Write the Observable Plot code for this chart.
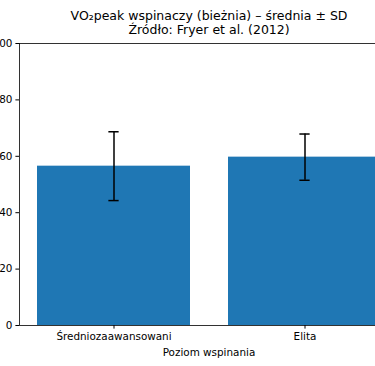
<!DOCTYPE html>
<html>
<head>
<meta charset="utf-8">
<script src="https://cdn.jsdelivr.net/npm/d3@7"></script>
<script src="https://cdn.jsdelivr.net/npm/@observablehq/plot@0.6"></script>
<style>
html, body { margin: 0; padding: 0; overflow: hidden; background: white; }
</style>
</head>
<body>
<div id="chart"></div>
<script>
const categories = ["Średniozaawansowani", "Elita"];
const means = [56.5, 59.7];
const sds = [12.2, 8.2];
const yTicks = [0, 20, 40, 60, 80, 100];
const titleLines = ["VO₂peak wspinaczy (bieżnia) – średnia ± SD", "Źródło: Fryer et al. (2012)"];
const xLabel = "Poziom wspinania";

const data = categories.map((c, i) => ({cat: c, mean: means[i], lo: means[i] - sds[i], hi: means[i] + sds[i]}));

const W = 420, ML = 19, MR = 22, MT = 43, MB = 41, H = 366;
const bw = d3.scaleBand().domain(categories).range([ML, W - MR]).paddingInner(0.2).paddingOuter(0.09).bandwidth();
const capHalf = 5.2;
const inset = bw / 2 - capHalf;

const font = "DejaVu Sans, sans-serif";

const plot = Plot.plot({
  width: W, height: H,
  marginLeft: ML, marginRight: MR, marginTop: MT, marginBottom: MB,
  style: {fontFamily: font, fontSize: "10.4px", maxWidth: "none", background: "white", overflow: "visible", color: "black"},
  x: {type: "band", domain: categories, paddingInner: 0.2, paddingOuter: 0.09, label: null},
  y: {domain: [0, 100], label: null},
  marks: [
    Plot.barY(data, {x: "cat", y: "mean", fill: "#1f77b4"}),
    Plot.ruleX(data, {x: "cat", y1: "lo", y2: "hi", stroke: "black", strokeWidth: 1.5}),
    Plot.tickY(data, {x: "cat", y: "lo", stroke: "black", strokeWidth: 1.5, insetLeft: inset, insetRight: inset}),
    Plot.tickY(data, {x: "cat", y: "hi", stroke: "black", strokeWidth: 1.5, insetLeft: inset, insetRight: inset}),
    Plot.frame({stroke: "black", strokeWidth: 0.8}),
    Plot.axisY({ticks: yTicks, tickSize: 3.6, tickPadding: 3.5, label: null, fontSize: "10.4px"}),
    Plot.axisX({tickSize: 3.6, tickPadding: 4, label: null, fontSize: "10.4px"}),
    Plot.text([xLabel], {frameAnchor: "bottom", dy: 30, fontSize: "10.4px", text: d => d}),
    Plot.text([titleLines[0]], {frameAnchor: "top", dy: -32.5, fontSize: "12.5px", text: d => d}),
    Plot.text([titleLines[1]], {frameAnchor: "top", dy: -18, fontSize: "12.5px", text: d => d})
  ]
});
document.getElementById("chart").appendChild(plot);
</script>
</body>
</html>
